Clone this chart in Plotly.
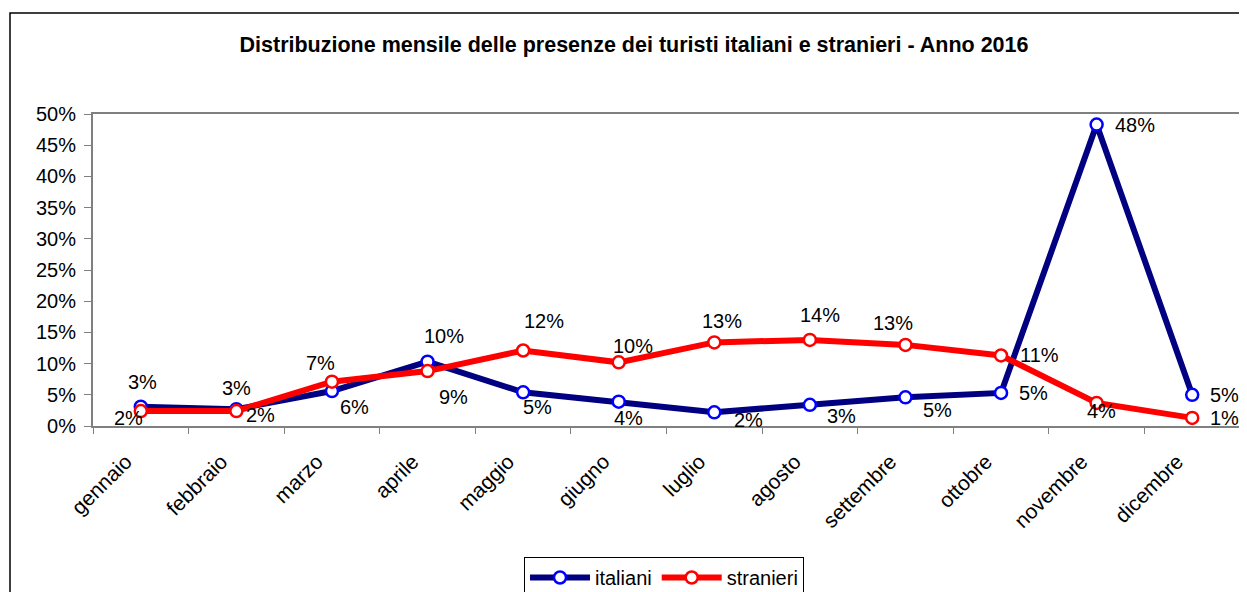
import plotly.graph_objects as go

mesi = ["gennaio", "febbraio", "marzo", "aprile", "maggio", "giugno",
        "luglio", "agosto", "settembre", "ottobre", "novembre", "dicembre"]
italiani = [3.1, 2.7, 5.6, 10.3, 5.4, 3.9, 2.2, 3.4, 4.6, 5.3, 48.3, 5.0]
stranieri = [2.4, 2.4, 7.1, 8.8, 12.1, 10.2, 13.4, 13.8, 13.0, 11.3, 3.7, 1.3]

# label offsets (px) from each point, as placed in the original chart
off_ita = [(2, 25), (0, 21), (23, -16), (16, 26), (14, -15), (10, -16),
           (34, -8), (32, -11), (32, -13), (32, 0), (38, 0), (32, 0)]
off_str = [(-12, -7), (24, -4), (-11, 19), (26, -26), (21, 30), (14, 16),
           (8, 21), (10, 25), (-12, 22), (38, 0), (5, -8), (32, 0)]

# the page body adds an 8px offset, so the figure is 8px smaller
W, H = 1239, 584
L, R, T, B = 85, 1232, 106, 418

fig = go.Figure()
series = [("italiani", italiani, "#000080", "#0000FF", off_ita),
          ("stranieri", stranieri, "#FF0000", "#FF0000", off_str)]
for name, vals, lc, mc, offs in series:
    fig.add_trace(go.Scatter(
        x=mesi, y=vals, name=name, mode="lines+markers",
        line=dict(color=lc, width=6),
        marker=dict(symbol="circle", size=12, color="white",
                    line=dict(color=mc, width=2.5)),
    ))
    for m, v, (dx, dy) in zip(mesi, vals, offs):
        fig.add_annotation(x=m, y=v, text=f"{round(v)}%", showarrow=False,
                           xshift=dx, yshift=dy,
                           font=dict(family="Liberation Sans, Arial", size=20, color="black"))

# outer chart frame
pw, ph = R - L, B - T
fig.add_shape(type="rect", xref="paper", yref="paper",
              x0=(2 - L) / pw, x1=(1235 - L) / pw,
              y0=(B - 620) / ph, y1=(B - 5) / ph,
              line=dict(color="black", width=1.5), layer="below")

fig.update_layout(
    width=W, height=H,
    margin=dict(l=L, r=W - R, t=T, b=H - B, autoexpand=False),
    paper_bgcolor="white", plot_bgcolor="white",
    font=dict(family="Liberation Sans, Arial", size=20, color="black"),
    title=dict(text="<b>Distribuzione mensile delle presenze dei turisti italiani e stranieri - Anno 2016</b>",
               font=dict(size=21.5), x=626 / W, xanchor="center",
               y=1 - 36 / H, yanchor="middle", xref="container", yref="container"),
    showlegend=True,
    legend=dict(orientation="h", x=516 / W, xanchor="left", xref="container",
                y=1 - 549 / H, yanchor="top", yref="container",
                bordercolor="black", borderwidth=1, bgcolor="white",
                font=dict(size=20), itemwidth=60, tracegroupgap=0),
)
fig.update_xaxes(type="category", range=[-0.5, 11.5], tickangle=-45, tickson="boundaries",
                 ticks="outside", ticklen=6, tickcolor="#808080",
                 ticklabelstandoff=13, ticklabelshift=-15, tickfont=dict(size=21),
                 showline=True, linecolor="#808080", linewidth=2, mirror=True,
                 showgrid=False, zeroline=False, automargin=False)
fig.update_yaxes(range=[0, 50], dtick=5, ticksuffix="%",
                 ticks="outside", ticklen=7, tickcolor="#808080", ticklabelstandoff=4,
                 showline=True, linecolor="#808080", linewidth=2, mirror=True,
                 showgrid=False, zeroline=False, automargin=False)

fig.write_html("out.html")
